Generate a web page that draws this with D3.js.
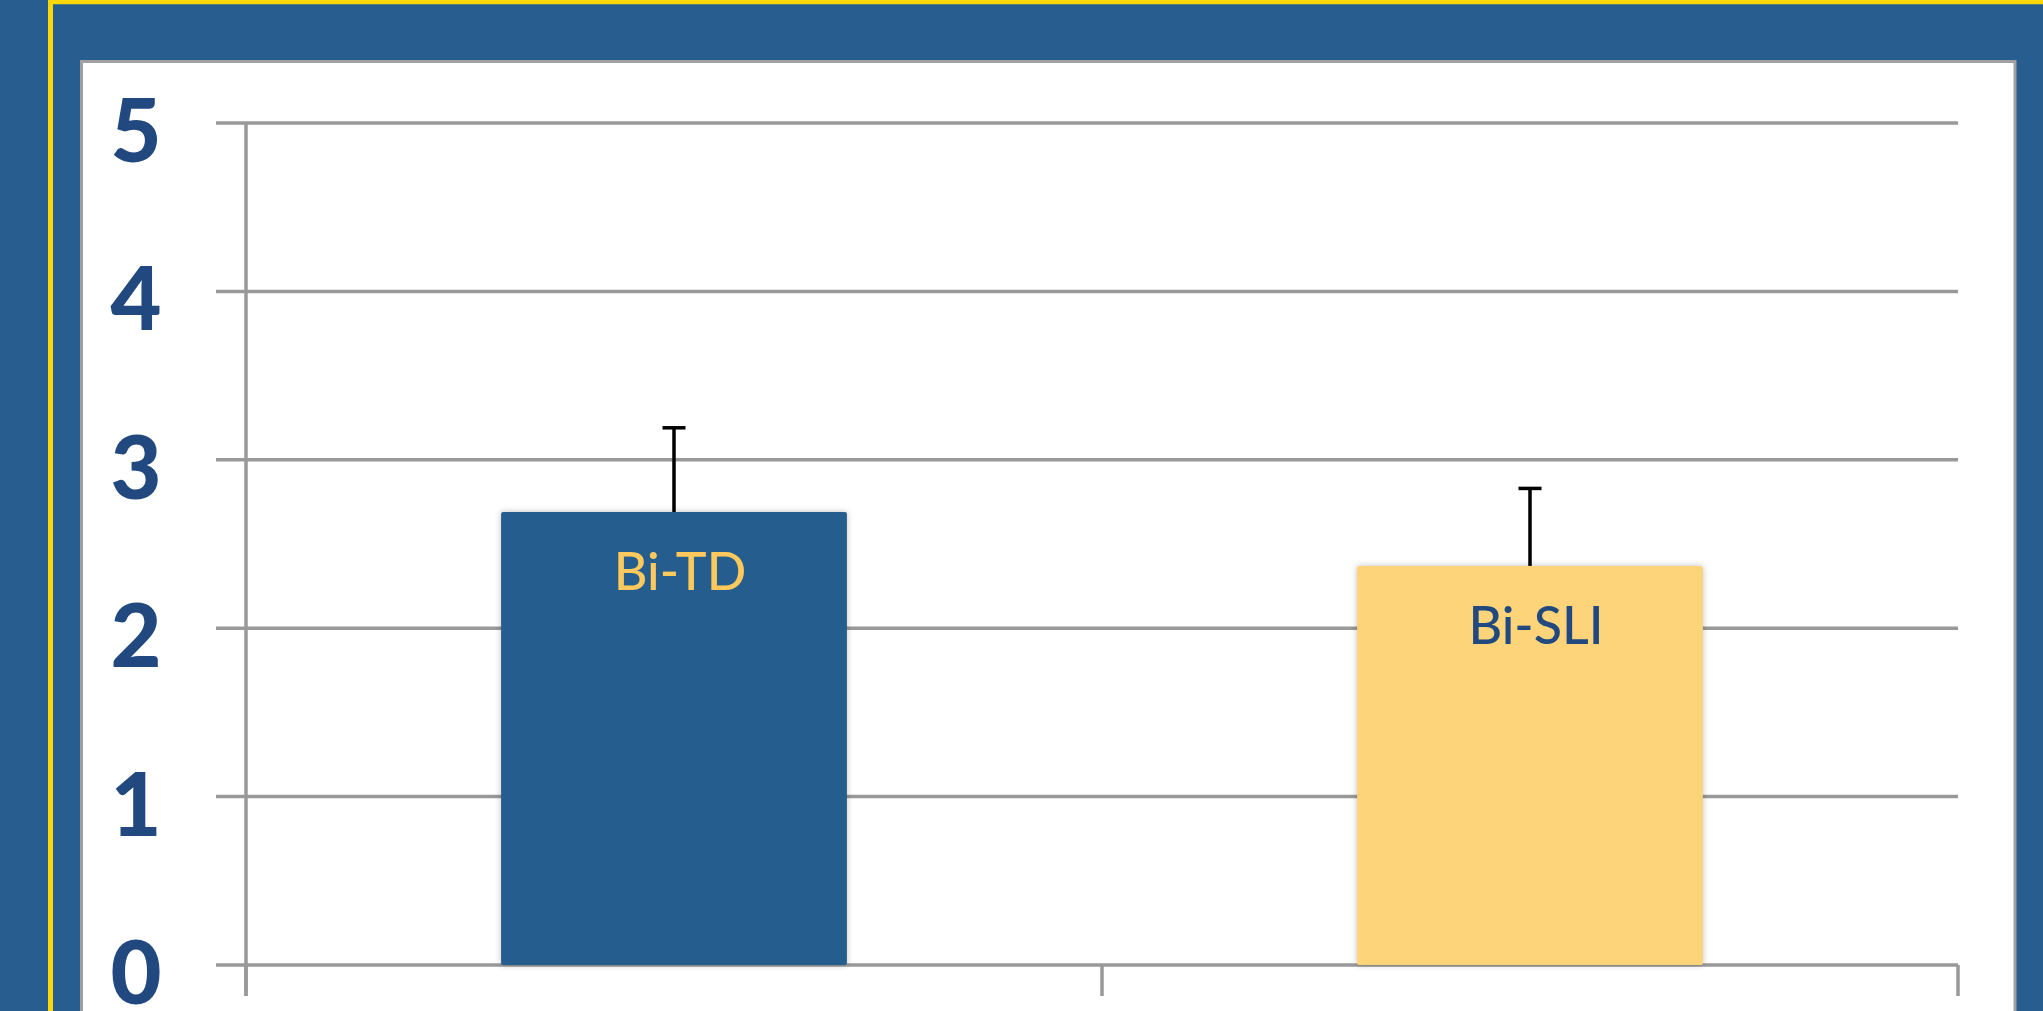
<!DOCTYPE html>
<html>
<head>
<meta charset="utf-8">
<script src="https://cdn.jsdelivr.net/npm/d3@7"></script>
<style>
  html, body { margin: 0; padding: 0; background: #285D8F; overflow: hidden; }
  svg { display: block; }
</style>
</head>
<body>
<svg id="chart" width="2043" height="1011"></svg>
<script>
const categories = ["Bi-TD", "Bi-SLI"];
const values = [2.69, 2.37];
const errors = [0.50, 0.46];
const barColors = ["#285D8F", "#FDD47A"];
const labelColors = ["#FDC95C", "#21497F"];
const yTicks = [0, 1, 2, 3, 4, 5];

const W = 2043, H = 1011;
const svg = d3.select("#chart");
const defs = svg.append("defs");
const f = defs.append("filter").attr("id", "shadow").attr("x", "-10%").attr("y", "-10%").attr("width", "120%").attr("height", "120%");
f.append("feDropShadow").attr("dx", 0).attr("dy", 0).attr("stdDeviation", 3).attr("flood-color", "#000").attr("flood-opacity", 0.25);

// background
svg.append("rect").attr("width", W).attr("height", H).attr("fill", "#285D8F");
// yellow frame lines
svg.append("line").attr("x1", 48).attr("x2", W).attr("y1", 2).attr("y2", 2).attr("stroke", "#F9D70B").attr("stroke-width", 4.5);
svg.append("line").attr("x1", 50.5).attr("x2", 50.5).attr("y1", 0).attr("y2", H).attr("stroke", "#F9D70B").attr("stroke-width", 5);
// white panel
svg.append("rect").attr("x", 81.5).attr("y", 61.5).attr("width", 2015 - 81.5).attr("height", H)
  .attr("fill", "#fff").attr("stroke", "#A0A0A0").attr("stroke-width", 3);

const x0 = 246, x1 = 1958, yTop = 123, yBot = 965;
const x = d3.scaleBand().domain(categories).range([x0, x1]).paddingInner(0).paddingOuter(0);
const y = d3.scaleLinear().domain([0, 5]).range([yBot, yTop]);
const barW = x.bandwidth() * 0.404;

const grid = "#999999";
// gridlines + left tick marks
svg.append("g").selectAll("line").data(yTicks).join("line")
  .attr("x1", 216).attr("x2", x1).attr("y1", d => y(d)).attr("y2", d => y(d))
  .attr("stroke", grid).attr("stroke-width", 3.5);

// y axis line
svg.append("line").attr("x1", x0).attr("x2", x0).attr("y1", yTop).attr("y2", 996)
  .attr("stroke", grid).attr("stroke-width", 3.5);
// bottom ticks
const bTicks = [x0, ...categories.slice(1).map(c => x(c)), x1];
svg.append("g").selectAll("line").data(bTicks).join("line")
  .attr("x1", d => d).attr("x2", d => d).attr("y1", yBot).attr("y2", 996)
  .attr("stroke", grid).attr("stroke-width", 3.5);

// y tick labels
svg.append("g").selectAll("text").data(yTicks).join("text")
  .attr("x", 136).attr("y", d => y(d) + 39)
  .attr("text-anchor", "middle")
  .attr("font-family", "Lato, 'Open Sans', sans-serif")
  .attr("font-weight", 900).attr("font-size", 88)
  .attr("fill", "#21497F")
  .text(d => d);

// bars
const data = categories.map((c, i) => ({c, v: values[i], e: errors[i], col: barColors[i], lc: labelColors[i]}));
svg.append("g").selectAll("rect").data(data).join("rect")
  .attr("x", d => x(d.c) + x.bandwidth() / 2 - barW / 2)
  .attr("y", d => y(d.v))
  .attr("width", barW)
  .attr("height", d => y(0) - y(d.v))
  .attr("fill", d => d.col)
  .attr("rx", 2)
  .attr("filter", "url(#shadow)");

// error bars
const eg = svg.append("g");
eg.selectAll("line.v").data(data).join("line").attr("class", "v")
  .attr("x1", d => x(d.c) + x.bandwidth() / 2).attr("x2", d => x(d.c) + x.bandwidth() / 2)
  .attr("y1", d => y(d.v)).attr("y2", d => y(d.v + d.e))
  .attr("stroke", "#000").attr("stroke-width", 3.5);
eg.selectAll("line.h").data(data).join("line").attr("class", "h")
  .attr("x1", d => x(d.c) + x.bandwidth() / 2 - 11.5).attr("x2", d => x(d.c) + x.bandwidth() / 2 + 11.5)
  .attr("y1", d => y(d.v + d.e)).attr("y2", d => y(d.v + d.e))
  .attr("stroke", "#000").attr("stroke-width", 3.5);

// labels in bars
svg.append("g").selectAll("text").data(data).join("text")
  .attr("x", d => x(d.c) + x.bandwidth() / 2 + 6)
  .attr("y", d => y(d.v) + 78)
  .attr("text-anchor", "middle")
  .attr("font-family", "Lato, 'Open Sans', sans-serif")
  .attr("font-weight", 500)
  .attr("font-size", 52)
  .attr("fill", d => d.lc)
  .text(d => d.c);
</script>
</body>
</html>
